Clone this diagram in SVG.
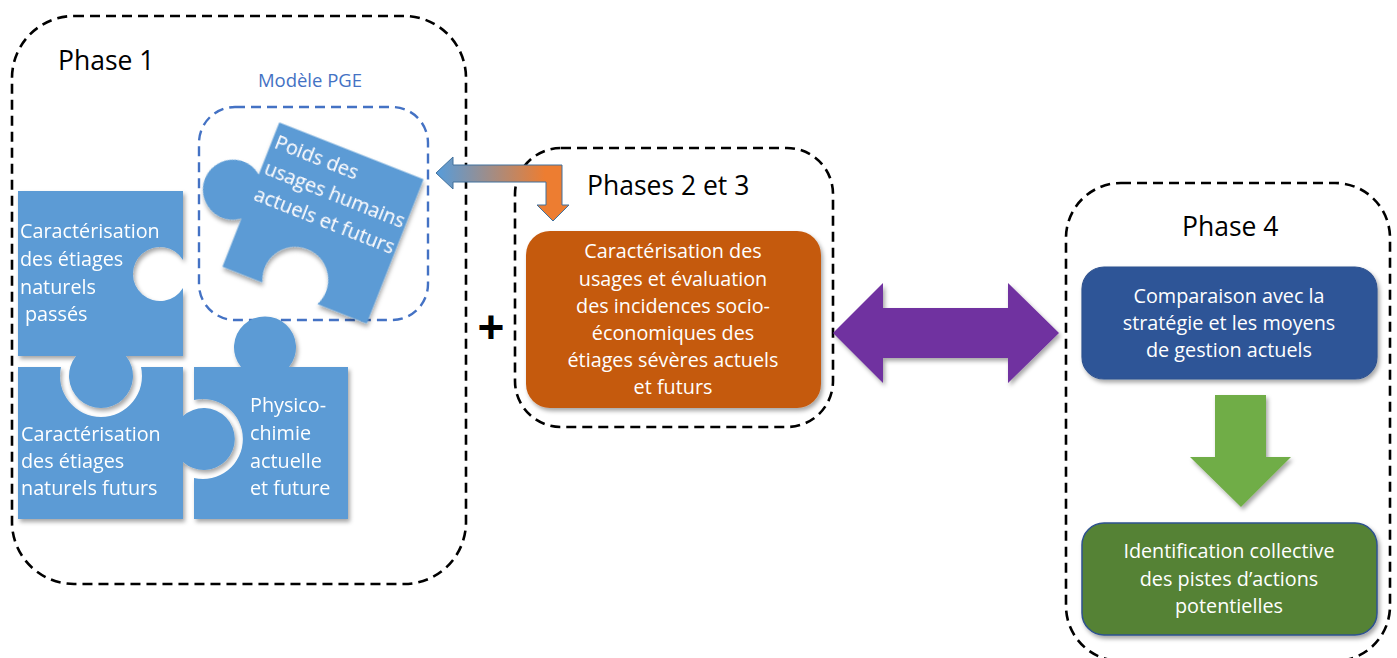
<svg xmlns="http://www.w3.org/2000/svg" width="1397" height="658" viewBox="0 0 1397 658">
<style>
.phase{fill:none;stroke:#000;stroke-width:2.6;stroke-dasharray:10 6}
.pge{fill:none;stroke:#4472C4;stroke-width:2.4;stroke-dasharray:10 6}
.t{font-family:"Open Sans","Liberation Sans",sans-serif;font-size:19.8px}
.w{fill:#fff}
.mid{text-anchor:middle}
.ph{font-family:"Open Sans","Liberation Sans",sans-serif;font-size:26.5px;fill:#000}
.piece{fill:#5B9BD5}
</style>
<defs>
<filter id="sh" x="-10%" y="-10%" width="130%" height="130%">
<feDropShadow dx="2" dy="3" stdDeviation="2" flood-color="#000" flood-opacity="0.35"/>
</filter>
<linearGradient id="grad" gradientUnits="userSpaceOnUse" x1="440" y1="0" x2="545" y2="0">
<stop offset="0" stop-color="#5B9BD5"/>
<stop offset="1" stop-color="#ED7D31"/>
</linearGradient>
</defs>

<g id="phase1">
<rect class="phase" x="12" y="16" width="454" height="568" rx="62"/>
<text class="ph" x="58" y="70">Phase 1</text>
</g>

<g id="modele-pge">
<rect class="pge" x="199" y="107" width="229" height="213" rx="36"/>
<text x="310" y="87" class="mid" style="font-family:'Open Sans','Liberation Sans',sans-serif;font-size:18.5px;fill:#4472C4">Modèle PGE</text>
</g>

<g id="piece-passes" filter="url(#sh)">
<path class="piece" d="M18,191 H183 V260 A27,27 0 1 0 183,288 V356 H126 A32,32 0 1 1 76,356 H18 Z"/>
<text class="t w"><tspan x="20" y="238">Caractérisation</tspan><tspan x="20" y="266">des étiages</tspan><tspan x="20" y="294">naturels</tspan><tspan x="25" y="321">passés</tspan></text>
</g>

<g id="piece-futurs" filter="url(#sh)">
<path class="piece" d="M18,367 H61 A41,41 0 1 0 141,367 H183 V416 A31,31 0 1 1 183,462 V519 H18 Z"/>
<text class="t w"><tspan x="21" y="441">Caractérisation</tspan><tspan x="21" y="468">des étiages</tspan><tspan x="21" y="495">naturels futurs</tspan></text>
</g>

<g id="piece-physico" filter="url(#sh)">
<path class="piece" d="M194,367 H241 A31,31 0 1 1 289,367 H348 V519 H194 V478 A40,40 0 1 0 194,400 Z"/>
<text class="t w"><tspan x="250" y="412">Physico-</tspan><tspan x="250" y="440">chimie</tspan><tspan x="250" y="468">actuelle</tspan><tspan x="250" y="495">et future</tspan></text>
</g>

<g id="piece-usages" filter="url(#sh)" transform="translate(323,223) rotate(21.5)">
<path class="piece" d="M-77.5,-77.5 H77.5 V77.5 H24.6 A33,33 0 1 0 -34.6,77.5 H-77.5 V25.6 A30,30 0 1 1 -77.5,-21.6 Z"/>
<text class="t w"><tspan x="-74" y="-52">Poids des</tspan><tspan x="-74" y="-24">usages humains</tspan><tspan x="-74" y="4">actuels et futurs</tspan></text>
</g>

<g id="plus">
<text x="491" y="343" class="mid" style="font-family:'Liberation Sans',sans-serif;font-size:46px;font-weight:bold;fill:#000">+</text>
</g>

<g id="phase23">
<rect class="phase" x="515" y="148" width="318" height="279" rx="46"/>
<text class="ph" x="587" y="195">Phases 2 et 3</text>
</g>

<g id="incidences">
<rect x="526" y="231" width="295" height="177" rx="24" fill="#C55A11" filter="url(#sh)"/>
<text class="t w mid"><tspan x="673" y="258">Caractérisation des</tspan><tspan x="673" y="286">usages et évaluation</tspan><tspan x="673" y="313">des incidences socio-</tspan><tspan x="673" y="340">économiques des</tspan><tspan x="673" y="367">étiages sévères actuels</tspan><tspan x="673" y="394">et futurs</tspan></text>
</g>

<g id="phase4">
<rect class="phase" x="1066" y="183" width="324" height="478" rx="55"/>
<text class="ph" x="1182" y="236">Phase 4</text>
</g>

<g id="comparaison">
<rect x="1082" y="267" width="295" height="112" rx="22" fill="#2F5597" stroke="#2F528F" stroke-width="1.2" filter="url(#sh)"/>
<text class="t w mid"><tspan x="1229" y="303">Comparaison avec la</tspan><tspan x="1229" y="330">stratégie et les moyens</tspan><tspan x="1229" y="357">de gestion actuels</tspan></text>
</g>

<g id="identification">
<rect x="1082" y="523" width="295" height="112" rx="22" fill="#548235" stroke="#2F528F" stroke-width="1.5" filter="url(#sh)"/>
<text class="t w mid"><tspan x="1229" y="558">Identification collective</tspan><tspan x="1229" y="586">des pistes d’actions</tspan><tspan x="1229" y="613">potentielles</tspan></text>
</g>

<g id="connectors">
<path d="M436,173 L453,157 L453,165 L562,165 L562,205 L569,205 L553,221 L537,205 L546,205 L546,182 L453,182 L453,189 Z" fill="url(#grad)" stroke="#41719C" stroke-width="1"/>
<path d="M833,333 L883,283 L883,308 L1008,308 L1008,283 L1059,333 L1008,383 L1008,358 L883,358 L883,383 Z" fill="#7030A0" filter="url(#sh)"/>
<path d="M1215,395 H1266 V457 H1291 L1241,507 L1190,457 H1215 Z" fill="#70AD47" filter="url(#sh)"/>
</g>
</svg>
